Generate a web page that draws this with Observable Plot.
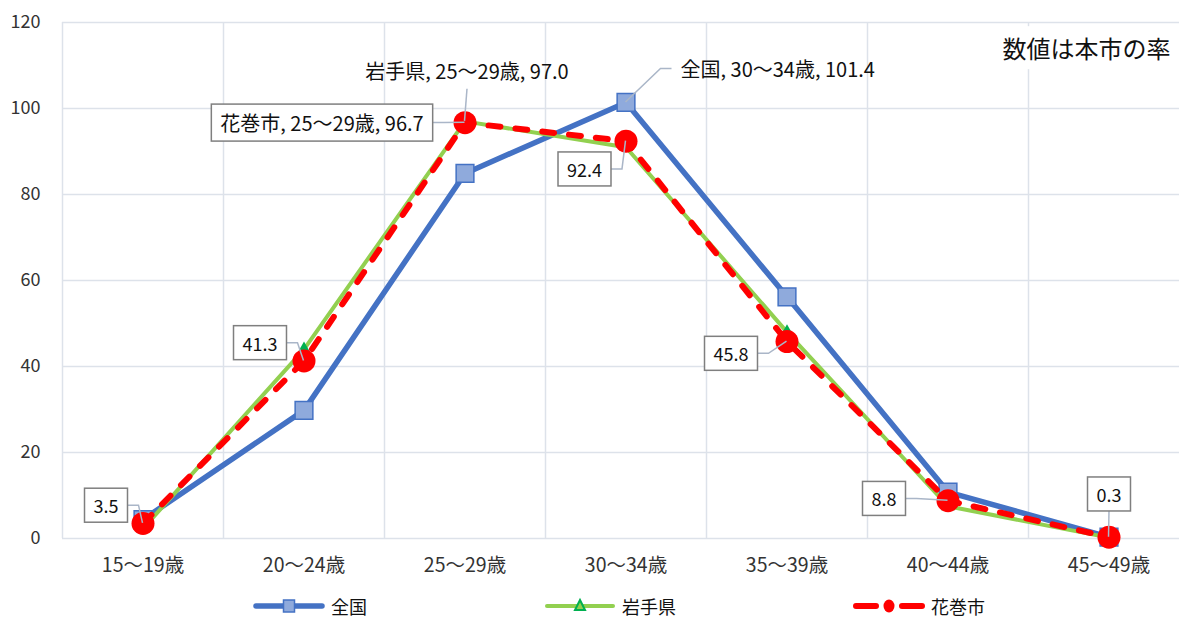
<!DOCTYPE html>
<html><head><meta charset="utf-8">
<script src="https://cdn.jsdelivr.net/npm/d3@7"></script>
<script src="https://cdn.jsdelivr.net/npm/@observablehq/plot@0.6"></script>
<style>
body{margin:0;background:#fff;font-family:"Noto Sans CJK JP","Noto Sans",sans-serif;}
#wrap{position:relative;width:1179px;height:618px;overflow:hidden;background:#fff;}
#legend{position:absolute;left:253px;top:594px;height:24px;line-height:24px;display:flex;align-items:center;gap:177px;font-size:18px;color:#111;}
#legend .item{display:flex;align-items:center;gap:6px;height:24px;}
#legend svg{display:block;}
</style></head><body>
<div id="wrap"><div id="chart"></div><div id="legend"></div></div>
<script>
// ---- data ----
const ages = ["15〜19歳", "20〜24歳", "25〜29歳", "30〜34歳", "35〜39歳", "40〜44歳", "45〜49歳"];
const seriesNames = ["全国", "岩手県", "花巻市"];
const national = [4.4, 29.8, 84.9, 101.4, 56.2, 10.8, 0.3];
const iwate    = [2.3, 44.0, 97.0, 91.0, 48.0, 7.5, 0.2];
const hanamaki = [3.5, 41.3, 96.7, 92.4, 45.8, 8.8, 0.3];
const yTicks = [0, 20, 40, 60, 80, 100, 120];
const note = "数値は本市の率";

// ---- label layout (styling offsets in px) ----
const labelSpecs = [
  {s: 2, i: 0, full: false, box: true,  dx: -37,  dy: -16},
  {s: 2, i: 1, full: false, box: true,  dx: -44,  dy: -16},
  {s: 2, i: 2, full: true,  box: true,  dx: -143, dy: 2},
  {s: 2, i: 3, full: false, box: true,  dx: -41.5, dy: 30},
  {s: 2, i: 4, full: false, box: true,  dx: -56,  dy: 14},
  {s: 2, i: 5, full: false, box: true,  dx: -64,  dy: 0},
  {s: 2, i: 6, full: false, box: true,  dx: 0,    dy: -41},
  {s: 1, i: 2, full: true,  box: false, dx: 2,    dy: -49},
  {s: 0, i: 3, full: true,  box: false, dx: 54.5, dy: -32, anchor: "start"}
];

const allValues = [national, iwate, hanamaki];
const rowsOf = (k) => allValues[k].map((v, i) => ({series: seriesNames[k], i, v}));
const natRows = rowsOf(0), iwRows = rowsOf(1), haRows = rowsOf(2);

const gridColor = "#dde2ea";
const colors = {
  nat: "#4472C4", natFill: "#8FAADC",
  iw: "#92D050", iwMark: "#00B050",
  ha: "#FF0000"
};

const labelMarks = labelSpecs.map(sp => {
  const v = allValues[sp.s][sp.i];
  const txt = sp.full ? `${seriesNames[sp.s]}, ${ages[sp.i]}, ${v.toFixed(1)}` : v.toFixed(1);
  return Plot.text([{i: sp.i, v, txt}], {
    x: "i", y: "v", text: "txt", dx: sp.dx, dy: sp.dy,
    textAnchor: sp.anchor || "middle", lineAnchor: "middle",
    fontSize: sp.full ? 20 : 18, fill: "#111"
  });
});

const chart = Plot.plot({
  width: 1179, height: 585,
  marginLeft: 62, marginRight: 0, marginTop: 22, marginBottom: 47,
  style: {fontSize: "18px", fontFamily: "'Noto Sans CJK JP','Noto Sans',sans-serif", color: "#333", background: "white", overflow: "visible"},
  x: {type: "linear", domain: [-0.5, 6.5], range: [62, 1189], ticks: d3.range(ages.length),
      tickFormat: d => ages[d], tickSize: 0, tickPadding: 20, label: null},
  y: {domain: [0, 120], ticks: yTicks, tickSize: 0, tickPadding: 22, label: null},
  marks: [
    Plot.ruleY(yTicks, {stroke: gridColor, strokeWidth: 1.5}),
    Plot.ruleX(d3.range(ages.length + 1).map(k => k - 0.5), {stroke: gridColor, strokeWidth: 1.5}),
    Plot.line(natRows, {x: "i", y: "v", stroke: colors.nat, strokeWidth: 5.5, strokeLinejoin: "round"}),
    Plot.dot(natRows, {x: "i", y: "v", symbol: "square", r: 10, fill: colors.natFill, stroke: colors.nat, strokeWidth: 1.5}),
    Plot.line(iwRows, {x: "i", y: "v", stroke: colors.iw, strokeWidth: 4, strokeLinejoin: "round"}),
    Plot.dot(iwRows, {x: "i", y: "v", symbol: "triangle", r: 5, fill: colors.iwMark}),
    Plot.line(haRows, {x: "i", y: "v", stroke: colors.ha, strokeWidth: 6, strokeDasharray: "12 15", strokeLinecap: "round", strokeLinejoin: "round"}),
    Plot.dot(haRows, {x: "i", y: "v", r: 11.5, fill: colors.ha}),
    ...labelMarks,
    Plot.text([note], {frameAnchor: "top-right", dx: -9, dy: 28, lineAnchor: "middle", textAnchor: "end", fontSize: 24, fill: "#111"})
  ]
});
document.getElementById("chart").appendChild(chart);

// x tick labels slightly larger
chart.querySelectorAll('g[aria-label^="x-axis"] text').forEach(t => t.setAttribute("font-size", 19.5));

// ---- boxes and leader lines ----
const NS = "http://www.w3.org/2000/svg";
const xs = chart.scale("x"), ys = chart.scale("y");
const groups = chart.querySelectorAll('g[aria-label="text"]');
const sRect = chart.getBoundingClientRect();
const padX = 9, padY = 5;
const leaderG = document.createElementNS(NS, "g");
const boxG = document.createElementNS(NS, "g");
groups[0].parentNode.insertBefore(leaderG, groups[0]);
groups[0].parentNode.insertBefore(boxG, groups[0]);
labelSpecs.forEach((sp, k) => {
  const t = groups[k].querySelector("text");
  const r = t.getBoundingClientRect();
  const x0 = r.left - sRect.left - padX, x1 = r.right - sRect.left + padX;
  const y0 = r.top - sRect.top - padY + 1, y1 = r.bottom - sRect.top + padY - 1;
  const cx = (x0 + x1) / 2, cy = (y0 + y1) / 2;
  if (sp.box) {
    const rect = document.createElementNS(NS, "rect");
    rect.setAttribute("x", x0); rect.setAttribute("y", y0);
    rect.setAttribute("width", x1 - x0); rect.setAttribute("height", y1 - y0);
    rect.setAttribute("fill", "white"); rect.setAttribute("stroke", "#7f7f7f"); rect.setAttribute("stroke-width", 1.5);
    boxG.appendChild(rect);
  }
  const px = xs.apply(sp.i), py = ys.apply(allValues[sp.s][sp.i]);
  let pts;
  const elbow = 11;
  if (px > x1 + 2) pts = [[x1, cy], [x1 + elbow, cy], [px, py]];
  else if (px < x0 - 2) pts = [[x0, cy], [x0 - elbow, cy], [px, py]];
  else if (py > y1) pts = [[cx, y1], [px, py]];
  else pts = [[cx, y0], [px, py]];
  const pl = document.createElementNS(NS, "polyline");
  pl.setAttribute("points", pts.map(p => p.join(",")).join(" "));
  pl.setAttribute("fill", "none"); pl.setAttribute("stroke", "#aab6c8"); pl.setAttribute("stroke-width", 1.5);
  leaderG.appendChild(pl);
});
// white background behind the note
{
  const g = groups[groups.length - 1];
  const r = g.querySelector("text").getBoundingClientRect();
  const rect = document.createElementNS(NS, "rect");
  rect.setAttribute("x", r.left - sRect.left - 6); rect.setAttribute("y", r.top - sRect.top - 4);
  rect.setAttribute("width", r.width + 12); rect.setAttribute("height", r.height + 8);
  rect.setAttribute("fill", "white");
  g.parentNode.insertBefore(rect, g);
}

// ---- legend ----
const legend = document.getElementById("legend");
const swatches = [
  `<line x1="3" y1="12" x2="69" y2="12" stroke="${colors.nat}" stroke-width="5.5" stroke-linecap="round"/><rect x="30.5" y="6" width="11" height="12" fill="${colors.natFill}" stroke="${colors.nat}" stroke-width="1.5"/>`,
  `<line x1="3" y1="12" x2="69" y2="12" stroke="${colors.iw}" stroke-width="4" stroke-linecap="round"/><path d="M36,6 L41,16 L31,16 Z" fill="${colors.iw}" stroke="${colors.iwMark}" stroke-width="2"/>`,
  `<line x1="3" y1="12" x2="69" y2="12" stroke="${colors.ha}" stroke-width="6" stroke-dasharray="20 26" stroke-linecap="round"/><ellipse cx="36" cy="12" rx="5.5" ry="6.5" fill="${colors.ha}"/>`
];
seriesNames.forEach((name, k) => {
  const it = document.createElement("div");
  it.className = "item";
  it.innerHTML = `<svg width="72" height="24">${swatches[k]}</svg><span>${name}</span>`;
  legend.appendChild(it);
});
</script>
</body></html>
